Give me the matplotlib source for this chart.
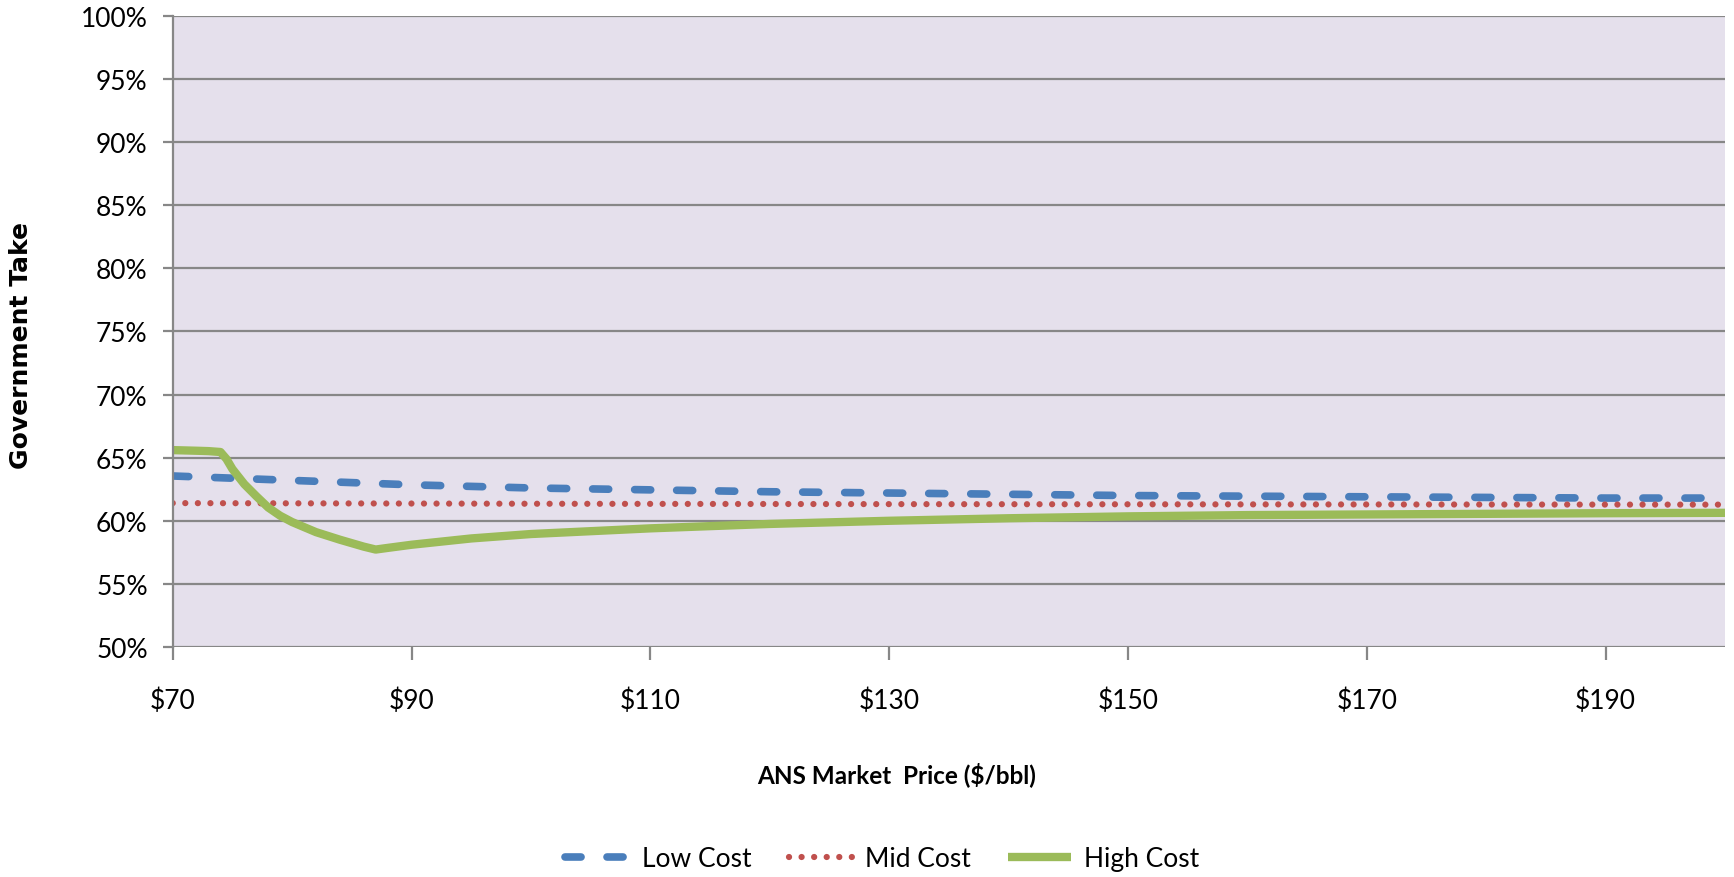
"""
Government take vs. ANS market price for three cost cases.
"""

import matplotlib

matplotlib.use("Agg")
import matplotlib.pyplot as plt
from matplotlib.ticker import FuncFormatter, PercentFormatter

# ANS market price ($/bbl) and government take (%) per cost case
low_price = [70, 80, 90, 100, 110, 120, 130, 140, 150, 160, 170, 180, 190, 200]
low_take = [63.55, 63.2, 62.85, 62.6, 62.45, 62.3, 62.2, 62.1, 62.0, 61.95, 61.9, 61.85, 61.8, 61.8]

mid_price = [70, 100, 130, 160, 200]
mid_take = [61.4, 61.35, 61.32, 61.3, 61.28]

high_price = [70, 72, 73, 74, 74.5, 75, 76, 77, 78, 79, 80, 82, 84, 86, 87, 88, 90, 95, 100,
              110, 120, 130, 140, 150, 160, 170, 180, 190, 200]
high_take = [65.6, 65.55, 65.52, 65.45, 64.9, 64.1, 62.9, 61.95, 61.05, 60.4, 59.9, 59.1, 58.5,
             57.95, 57.72, 57.85, 58.1, 58.6, 58.95, 59.4, 59.75, 60.0, 60.2, 60.35, 60.45,
             60.5, 60.55, 60.6, 60.63]

x_ticks = [70, 90, 110, 130, 150, 170, 190]
y_ticks = [50, 55, 60, 65, 70, 75, 80, 85, 90, 95, 100]

BODY = ["Lato", "DejaVu Sans"]
GRID = "#878787"


def main() -> None:
    fig = plt.figure(figsize=(17.34, 8.78), dpi=100)
    ax = fig.add_axes([0.0996, 0.262, 0.8952, 0.7186])
    ax.set_facecolor("#e5e0ec")

    ax.plot(low_price, low_take, color="#4a7ebb", lw=5.5, dashes=(2.1, 3.4),
            dash_capstyle="round", label="Low Cost")
    ax.plot(mid_price, mid_take, color="#c0504d", lw=4.5, dashes=(0.01, 2.0),
            dash_capstyle="round", label="Mid Cost")
    ax.plot(high_price, high_take, color="#9bbb59", lw=6,
            solid_capstyle="butt", solid_joinstyle="round", label="High Cost")

    ax.set_xlim(70, 200)
    ax.set_ylim(50, 100)
    ax.set_xticks(x_ticks)
    ax.set_yticks(y_ticks)
    ax.xaxis.set_major_formatter(FuncFormatter(lambda v, _: f"${v:.0f}"))
    ax.yaxis.set_major_formatter(PercentFormatter(xmax=100, decimals=0))

    ax.grid(axis="y", color=GRID, lw=1.6, zorder=0)
    ax.set_axisbelow(True)
    for side in ("top", "right", "bottom"):
        ax.spines[side].set_visible(False)
    ax.spines["left"].set_color(GRID)
    ax.spines["left"].set_linewidth(1.6)

    ax.tick_params(axis="y", direction="out", length=7, width=1.6, color=GRID, pad=11)
    ax.tick_params(axis="x", direction="out", length=9, width=1.6, color=GRID, pad=20)
    for lab in ax.get_xticklabels() + ax.get_yticklabels():
        lab.set_family(BODY)
        lab.set_fontsize(19)

    fig.text(0.517, 0.118, "ANS Market  Price ($/bbl)", ha="center", va="center",
             family=BODY, fontsize=17.5, fontweight="bold")
    fig.text(0.012, 0.607, "Government Take", rotation=90, ha="center", va="center",
             family="DejaVu Sans", fontsize=18, fontweight="bold")

    fig.legend(loc="center", bbox_to_anchor=(0.509, 0.021), ncol=3, frameon=False,
               prop={"family": BODY, "size": 19}, handlelength=2.4,
               handletextpad=0.5, columnspacing=1.4)

    fig.savefig("out.png", dpi=100, facecolor="white")
    plt.close(fig)


if __name__ == "__main__":
    main()
